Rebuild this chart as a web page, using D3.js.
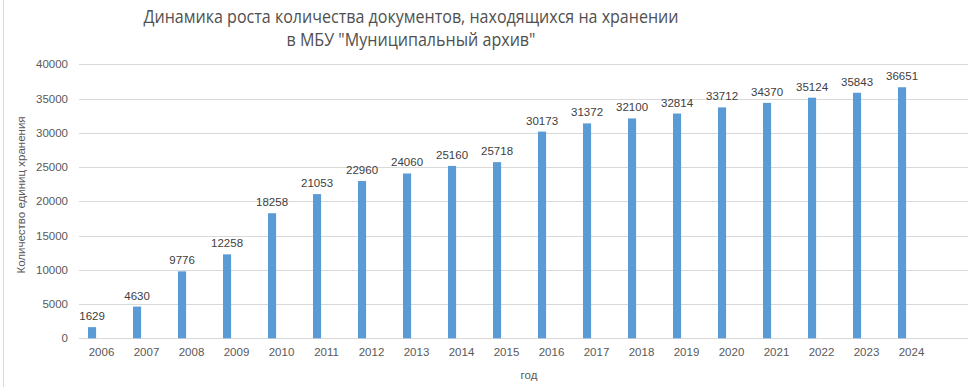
<!DOCTYPE html>
<html>
<head>
<meta charset="utf-8">
<script src="https://cdn.jsdelivr.net/npm/d3@7"></script>
<style>
  body { margin: 0; background: #fff; }
  svg text { font-family: "Liberation Sans", Arial, sans-serif; fill: #595959; }
</style>
</head>
<body>
<div id="chart"></div>
<script>
////////////////////////////////////////////////////
var years = ["2006","2007","2008","2009","2010","2011","2012","2013","2014","2015",
             "2016","2017","2018","2019","2020","2021","2022","2023","2024"];
var docs = [1629, 4630, 9776, 12258, 18258, 21053, 22960, 24060, 25160, 25718,
            30173, 31372, 32100, 32814, 33712, 34370, 35124, 35843, 36651];
var yTicks = [0, 5000, 10000, 15000, 20000, 25000, 30000, 35000, 40000];
var titleLines = ["Динамика роста количества документов, находящихся на хранении",
                  "в МБУ \"Муниципальный архив\""];
var yTitle = "Количество единиц хранения";
var xTitle = "год";

var totalW = 968, totalH = 387;
var plotL = 79, plotR = 979, plotT = 64.3, plotB = 338.3;
var titleW = [535, 249];

var svg = d3.select("#chart").append("svg")
	.attr("width", totalW)
	.attr("height", totalH);

// frame edge on the left
svg.append("line")
	.attr("x1", 3.5).attr("x2", 3.5)
	.attr("y1", 0).attr("y2", totalH)
	.attr("stroke", "#d9d9d9");

/////////// SCALES
// one empty slot after 2024, as in the original sheet
var x = d3.scaleBand()
	.domain(years.concat([""]))
	.range([plotL, plotR]);
var y = d3.scaleLinear()
	.domain([0, 40000])
	.range([plotB, plotT]);

var barOff = x.bandwidth() * 0.2;
var barW = x.bandwidth() * 0.18;

/////////// GRID
svg.append("g").selectAll("line")
	.data(yTicks)
	.enter().append("line")
		.attr("x1", plotL).attr("x2", plotR)
		.attr("y1", function(d){ return Math.round(y(d)) + 0.5; })
		.attr("y2", function(d){ return Math.round(y(d)) + 0.5; })
		.attr("stroke", "#d9d9d9")
		.attr("stroke-width", 1);

/////////// AXES
var yAxis = svg.append("g")
	.attr("transform", "translate(" + (plotL - 11) + ",0)")
	.call(d3.axisLeft(y).tickValues(yTicks).tickSize(0).tickPadding(0).tickFormat(d3.format("d")));
yAxis.select(".domain").remove();
yAxis.selectAll("text")
	.style("font-size", "11.5px")
	.style("font-family", "Liberation Sans, Arial, sans-serif")
	.attr("fill", "#595959");

var xAxis = svg.append("g")
	.attr("transform", "translate(0," + plotB + ")")
	.call(d3.axisBottom(x).tickSize(0).tickPadding(10));
xAxis.select(".domain").remove();
xAxis.selectAll("text")
	.style("font-size", "11.5px")
	.style("font-family", "Liberation Sans, Arial, sans-serif")
	.attr("fill", "#595959");

/////////// BARS
svg.append("g").selectAll("rect")
	.data(docs)
	.enter().append("rect")
		.attr("x", function(d,i){ return x(years[i]) + barOff; })
		.attr("y", function(d){ return y(d); })
		.attr("width", barW)
		.attr("height", function(d){ return y(0) - y(d); })
		.attr("fill", "#5b9bd5");

/////////// DATA LABELS
svg.append("g").selectAll("text")
	.data(docs)
	.enter().append("text")
		.attr("x", function(d,i){ return x(years[i]) + barOff + barW/2; })
		.attr("y", function(d){ return y(d) - 7; })
		.attr("text-anchor", "middle")
		.style("font-size", "11.5px")
		.style("fill", "#404040")
		.text(function(d){ return d; });

/////////// TITLES
svg.selectAll("text.title")
	.data(titleLines)
	.enter().append("text")
		.attr("class", "title")
		.attr("x", 411)
		.attr("y", function(d,i){ return 23 + i*23; })
		.attr("text-anchor", "middle")
		.attr("textLength", function(d,i){ return titleW[i]; })
		.attr("lengthAdjust", "spacingAndGlyphs")
		.style("font-size", "17.5px")
		.style("font-family", "Open Sans, Liberation Sans, sans-serif")
		.style("fill", "#505050")
		.text(function(d){ return d; });

svg.append("text")
	.attr("transform", "translate(25," + 195 + ") rotate(-90)")
	.attr("text-anchor", "middle")
	.style("font-size", "11.5px")
	.text(yTitle);

svg.append("text")
	.attr("x", (plotL + plotR)/2)
	.attr("y", 379)
	.attr("text-anchor", "middle")
	.style("font-size", "11.5px")
	.text(xTitle);
////////////////////////////////////////////////////
</script>
</body>
</html>
